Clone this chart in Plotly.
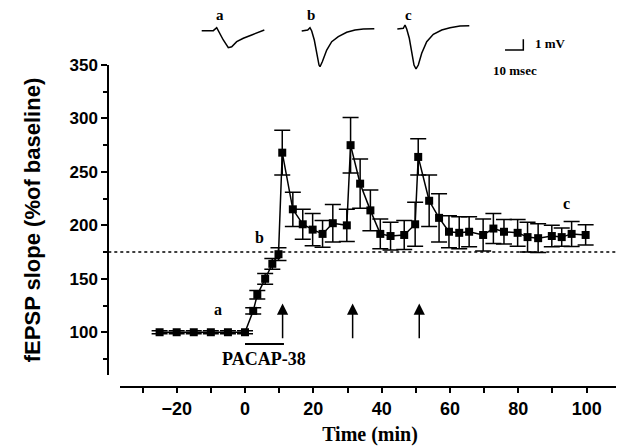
import plotly.graph_objects as go

# ---------------- data ----------------
time_min = [-25, -20, -15, -10, -5, 0, 2.4, 3.6, 5.9, 8.0, 9.8, 10.9, 14.0, 16.9, 19.8,
            22.7, 25.7, 29.8, 30.9, 33.7, 36.7, 39.6, 42.6, 46.6, 49.8, 50.7, 53.9,
            56.8, 59.7, 62.7, 65.6, 69.7, 72.7, 75.8, 79.8, 82.7, 85.8, 89.8, 92.7,
            95.6, 99.7]
fepsp_pct = [100, 100, 100, 100, 100, 100, 120, 135, 150, 164, 173, 268, 215, 201, 196,
             192, 202, 200, 275, 239, 214, 192, 190, 191, 201, 264, 223,
             207, 194, 193, 194, 191, 197, 194, 193, 189, 188, 190, 189,
             192, 191]
fepsp_sem = [1.5, 1.5, 1.5, 1.5, 1.5, 1.5, 3, 4, 5, 5, 6, 21, 16, 14, 15,
             12.5, 17.5, 15, 26, 23, 19, 14, 13, 13.5, 20.5, 17, 24,
             22.5, 15, 15, 14, 15, 14, 11.5, 12.5, 14, 13.5, 10, 8.5,
             11.7, 9.5]

threshold_level = 175
arrow_times = [11, 31.5, 51]
arrow_from, arrow_to = 93, 127
drug_start, drug_end, drug_level = 0, 11.4, 89
drug_label = "PACAP-38"
point_labels = ["a", "b", "c"]
point_label_t = [-7.8, 4.2, 94]
point_label_v = [121, 189, 220]

# inset traces (ms, mV)
trace_a_ms = [3.66, 10.0, 11.86, 12.73, 15.46, 18.2, 20.05, 22.79, 26.39, 30.98, 34.59, 37.87]
trace_a_mv = [0.03, 0.03, 0.31, 0.0, -0.84, -1.56, -1.47, -1.0, -0.68, -0.37, -0.12, 0.09]
trace_b_ms = [58.31, 61.58, 62.84, 63.77, 65.19, 66.50, 67.76, 68.31, 69.56, 71.97, 74.70,
              78.31, 82.90, 87.43, 91.97, 97.98]
trace_b_mv = [0.0, 0.09, 0.31, 0.0, -0.84, -2.08, -3.18, -3.34, -2.87, -1.78, -1.0,
              -0.53, -0.12, 0.09, 0.19, 0.21]
trace_c_ms = [110.55, 113.83, 114.75, 115.68, 117.10, 118.42, 119.67, 120.77, 122.02, 123.88,
              126.61, 130.22, 134.81, 139.34, 144.81, 149.89]
trace_c_mv = [0.19, 0.25, 0.56, 0.19, -0.68, -1.93, -3.18, -3.55, -3.18, -2.08,
              -1.0, -0.31, 0.09, 0.31, 0.47, 0.50]
trace_label_ms = [13.7, 63.2, 116.6]
trace_label_mv = 1.5
scalebar_x0, scalebar_ms = 169.4, 10
scalebar_y0, scalebar_mv = -1.776, 1

# ---------------- figure ----------------
SERIF = "Liberation Serif"
SANS = "Liberation Sans"

# page body adds an 8px offset; layout is compensated for it
PW, PH = 520, 379          # plotting "paper" size in px
def fy(px):                # screen y pixel -> paper fraction
    return (387 - px) / PH
def fx(px):                # screen x pixel -> paper fraction
    return (px - 100) / PW

fig = go.Figure()

fig.add_trace(go.Scatter(
    x=time_min, y=fepsp_pct, mode="lines+markers",
    line=dict(color="black", width=1.5),
    marker=dict(symbol="square", size=8, color="black"),
    error_y=dict(type="data", array=fepsp_sem, thickness=1.5, width=8, color="black"),
    showlegend=False, cliponaxis=False))

# drug application bar
fig.add_trace(go.Scatter(
    x=[drug_start, drug_end], y=[drug_level, drug_level], mode="lines",
    line=dict(color="black", width=2), showlegend=False))

# inset traces
for xs, ys in [(trace_a_ms, trace_a_mv), (trace_b_ms, trace_b_mv), (trace_c_ms, trace_c_mv)]:
    fig.add_trace(go.Scatter(x=xs, y=ys, mode="lines", xaxis="x2", yaxis="y2",
                             line=dict(color="black", width=1.5), showlegend=False))
fig.add_trace(go.Scatter(
    x=[scalebar_x0, scalebar_x0 + scalebar_ms, scalebar_x0 + scalebar_ms],
    y=[scalebar_y0, scalebar_y0, scalebar_y0 + scalebar_mv],
    mode="lines", xaxis="x2", yaxis="y2",
    line=dict(color="black", width=1.5), showlegend=False))

annotations = []
for t in arrow_times:
    annotations.append(dict(x=t, y=arrow_to, ax=t, ay=arrow_from, xref="x", yref="y",
                            axref="x", ayref="y", text="", showarrow=True,
                            arrowhead=2, arrowsize=1.5, arrowwidth=1.5, arrowcolor="black"))
annotations.append(dict(x=(drug_start + drug_end) / 2, y=75, xref="x", yref="y",
                        text=drug_label, showarrow=False,
                        font=dict(family=SERIF, size=18, color="black", weight="bold")))
for lab, t, v in zip(point_labels, point_label_t, point_label_v):
    annotations.append(dict(x=t, y=v, xref="x", yref="y", text=lab, showarrow=False,
                            font=dict(family=SERIF, size=16, color="black", weight="bold")))
for lab, ms in zip(point_labels, trace_label_ms):
    annotations.append(dict(x=ms, y=trace_label_mv, xref="x2", yref="y2", text=lab,
                            showarrow=False,
                            font=dict(family=SERIF, size=15, color="black", weight="bold")))
annotations.append(dict(x=194, y=-1.15, xref="x2", yref="y2", text="1 mV", showarrow=False,
                        font=dict(family=SERIF, size=13, color="black", weight="bold")))
annotations.append(dict(x=174.9, y=-3.71, xref="x2", yref="y2", text="10 msec",
                        showarrow=False,
                        font=dict(family=SERIF, size=13, color="black", weight="bold")))

fig.update_layout(
    width=624, height=447,
    margin=dict(l=92, r=12, t=0, b=68, autoexpand=False),
    paper_bgcolor="white", plot_bgcolor="white",
    showlegend=False,
    xaxis=dict(domain=[fx(120), 1], range=[-36.59, 109.76], anchor="free", position=0,
               automargin=False,
               showline=True, linecolor="black", linewidth=2, showgrid=False, zeroline=False,
               ticks="outside", ticklen=5, tickwidth=1.5, tickcolor="black",
               tick0=0, dtick=20,
               minor=dict(dtick=10, ticks="outside", ticklen=5, tickwidth=1.5,
                          tickcolor="black", showgrid=False),
               tickfont=dict(family=SANS, size=18, color="black", weight="bold"),
               title=dict(text="Time (min)", standoff=8,
                          font=dict(family=SERIF, size=20, color="black", weight="bold"))),
    yaxis=dict(domain=[fy(375), fy(65)], range=[60, 350], anchor="free",
               position=fx(108.3), automargin=False,
               showline=True, linecolor="black", linewidth=2, showgrid=False, zeroline=False,
               ticks="outside", ticklen=6, tickwidth=1.5, tickcolor="black",
               tickvals=[100, 150, 200, 250, 300, 350],
               minor=dict(dtick=25, ticks="outside", ticklen=4, tickwidth=1.5,
                          tickcolor="black", showgrid=False),
               tickfont=dict(family=SANS, size=17, color="black", weight="bold"),
               title=dict(text="fEPSP slope (%of baseline)", standoff=22,
                          font=dict(family=SANS, size=22, color="black", weight="bold"))),
    xaxis2=dict(domain=[fx(195), fx(600)], range=[0, 221.3], anchor="y2",
                visible=False, fixedrange=True),
    yaxis2=dict(domain=[fy(89), fy(9)], range=[-5.421, 2.056], anchor="x2",
                visible=False, fixedrange=True),
    shapes=[dict(type="line", xref="paper", yref="y", x0=fx(108.3), x1=1,
                 y0=threshold_level, y1=threshold_level,
                 line=dict(color="black", width=1.5, dash="dot"))],
    annotations=annotations,
)

fig.write_html("out.html")
